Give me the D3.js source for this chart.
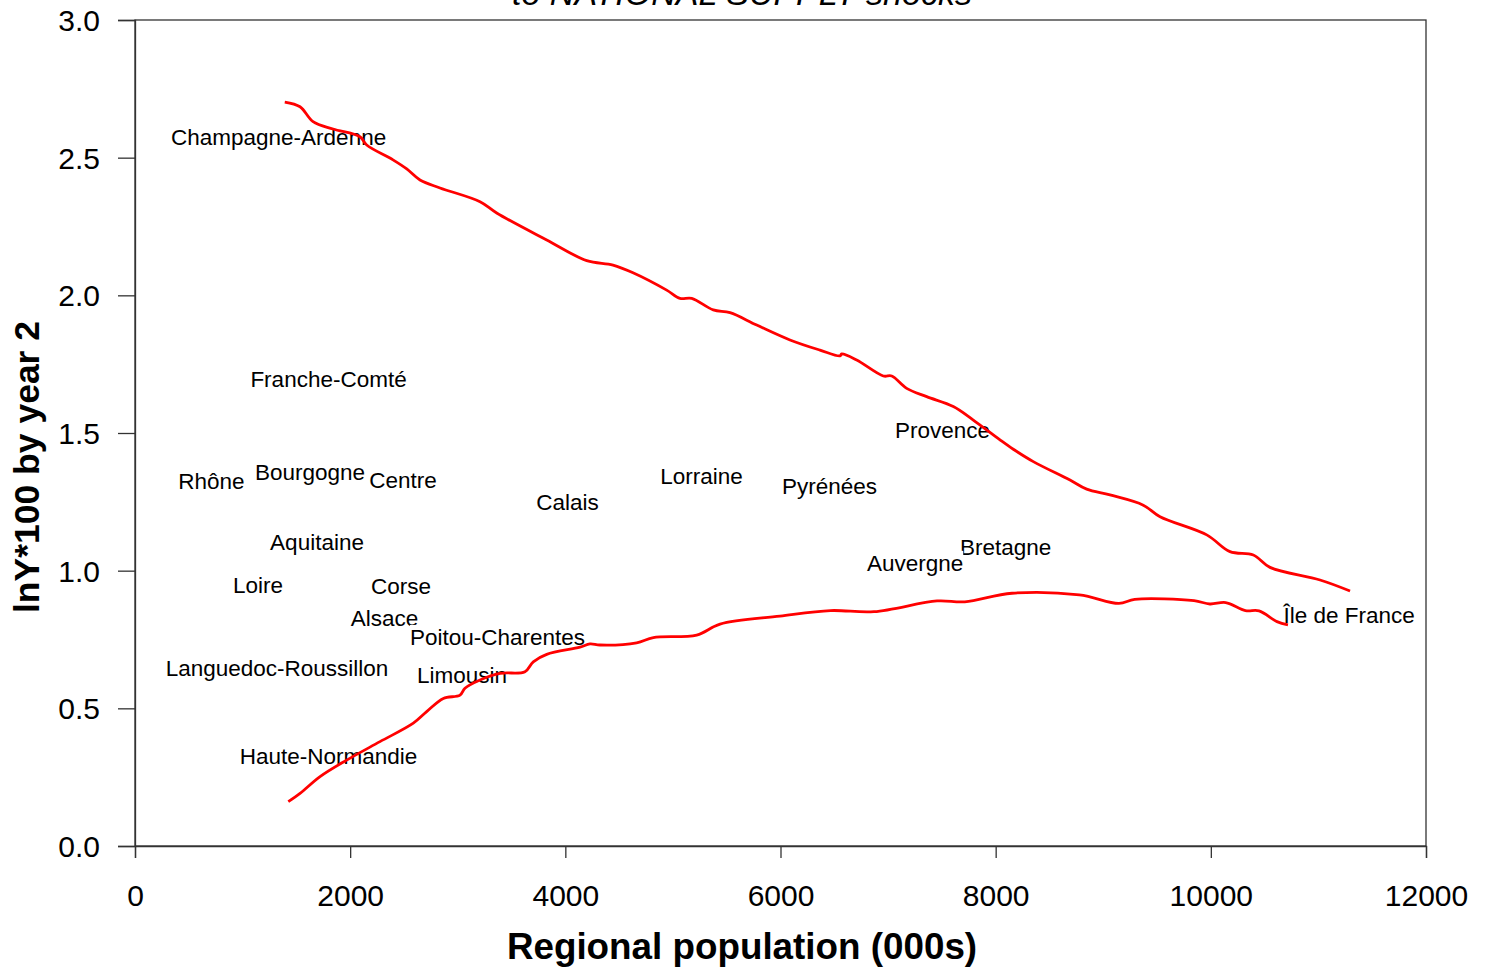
<!DOCTYPE html>
<html>
<head>
<meta charset="utf-8">
<script src="https://cdn.jsdelivr.net/npm/d3@7"></script>
<style>
  html, body { margin: 0; padding: 0; background: #fff; }
  svg { display: block; font-family: "Liberation Sans", Arial, sans-serif; }
</style>
</head>
<body>
<svg id="chart" width="1488" height="970"></svg>
<script>
// ---- data ----
const xTicks = [0, 2000, 4000, 6000, 8000, 10000, 12000];
const yTicks = [0.0, 0.5, 1.0, 1.5, 2.0, 2.5, 3.0];

const regionNames = [
  "Champagne-Ardenne", "Franche-Comté", "Rhône", "Bourgogne", "Centre",
  "Calais", "Lorraine", "Pyrénées", "Provence", "Aquitaine", "Bretagne",
  "Auvergne", "Loire", "Corse", "Alsace", "Poitou-Charentes",
  "Languedoc-Roussillon", "Limousin", "Haute-Normandie", "Île de France"
];
const regionX = [1335, 1799, 711, 1627, 2491, 4020, 5266, 6456, 7506, 1692, 8092,
                 7251, 1143, 2473, 2319, 3370, 1320, 3040, 1799, 11285];
const regionY = [2.575, 1.696, 1.326, 1.358, 1.329, 1.249, 1.344, 1.307, 1.511, 1.104, 1.086,
                 1.028, 0.948, 0.944, 0.828, 0.759, 0.646, 0.621, 0.327, 0.839];

const upperX = [1392, 1534, 1655, 1841, 2091, 2154, 2398, 2526, 2649, 2835, 3207, 3362,
                3827, 4199, 4443, 4629, 4942, 5066, 5175, 5375, 5531, 5779, 6088, 6367,
                6553, 6569, 6708, 6956, 7034, 7173, 7359, 7606, 7792, 8040, 8164, 8350,
                8691, 8846, 9063, 9372, 9528, 9962, 10178, 10395, 10550, 11015, 11294];
const upperY = [2.702, 2.685, 2.631, 2.604, 2.576, 2.546, 2.492, 2.459, 2.419, 2.390, 2.340, 2.299,
                2.201, 2.126, 2.110, 2.082, 2.019, 1.989, 1.989, 1.947, 1.937, 1.892, 1.838, 1.801,
                1.780, 1.787, 1.765, 1.707, 1.707, 1.662, 1.632, 1.596, 1.547, 1.475, 1.441, 1.396,
                1.329, 1.296, 1.275, 1.238, 1.196, 1.130, 1.069, 1.057, 1.012, 0.966, 0.926];

const lowerX = [1425, 1534, 1720, 1968, 2277, 2587, 2711, 2866, 3021, 3067, 3207, 3393,
                3625, 3702, 3827, 4136, 4229, 4322, 4663, 4818, 5221, 5438, 5995, 6464,
                6869, 7455, 7713, 8152, 8778, 9146, 9293, 9844, 9991, 10138, 10322, 10448,
                10615, 10717];
const lowerY = [0.161, 0.191, 0.252, 0.312, 0.379, 0.446, 0.488, 0.536, 0.548, 0.573, 0.603, 0.627,
                0.633, 0.669, 0.696, 0.722, 0.734, 0.730, 0.738, 0.757, 0.766, 0.806, 0.835, 0.855,
                0.851, 0.890, 0.887, 0.918, 0.912, 0.881, 0.896, 0.891, 0.879, 0.884, 0.855, 0.854,
                0.815, 0.803];

const titleText = "to NATIONAL SUPPLY shocks";
const xTitle = "Regional population (000s)";
const yTitle = "lnY*100 by year 2";

// ---- layout ----
const svg = d3.select("#chart");
const plotL = 135, plotR = 1426, plotT = 20, plotB = 846;
const x = d3.scaleLinear().domain([0, 12000]).range([plotL, plotR]);
const y = d3.scaleLinear().domain([0, 3]).range([plotB, plotT]);
const axisColor = "#333";

// frame
svg.append("rect")
  .attr("x", plotL).attr("y", plotT)
  .attr("width", plotR - plotL).attr("height", plotB - plotT)
  .attr("fill", "none").attr("stroke", axisColor).attr("stroke-width", 1.3);

// axes
const yAxis = svg.append("g").attr("transform", `translate(${plotL},0)`)
  .call(d3.axisLeft(y).tickValues(yTicks).tickFormat(d3.format(".1f")).tickSize(17).tickPadding(18));
const xAxis = svg.append("g").attr("transform", `translate(0,${plotB})`)
  .call(d3.axisBottom(x).tickValues(xTicks).tickFormat(d3.format("d")).tickSize(12).tickPadding(27));
[yAxis, xAxis].forEach(g => {
  g.select(".domain").attr("stroke", axisColor).attr("stroke-width", 1.3);
  g.selectAll(".tick line").attr("stroke", axisColor).attr("stroke-width", 1.3);
  g.selectAll(".tick text").attr("fill", "#000")
    .style("font-family", "'Liberation Sans', Arial, sans-serif").style("font-size", "30px");
});
yAxis.selectAll(".tick text").attr("dy", "0.35em");

// title (partially cut off at top, as in the original)
svg.append("text")
  .attr("x", 742).attr("y", 5)
  .attr("text-anchor", "middle")
  .style("font-size", "34px").style("font-style", "italic")
  .text(titleText);

// axis titles
svg.append("text")
  .attr("x", 742).attr("y", 959)
  .attr("text-anchor", "middle")
  .style("font-size", "36.8px").style("font-weight", "bold")
  .text(xTitle);
svg.append("text")
  .attr("transform", "translate(39,467) rotate(-90)")
  .attr("text-anchor", "middle")
  .style("font-size", "35.5px").style("font-weight", "bold")
  .text(yTitle);

// region labels with white backgrounds (drawn in order)
const labels = svg.append("g");
regionNames.forEach((name, i) => {
  const g = labels.append("g");
  const bg = g.append("rect").attr("fill", "#fff");
  const t = g.append("text")
    .attr("x", x(regionX[i])).attr("y", y(regionY[i]))
    .attr("dy", "0.35em")
    .attr("text-anchor", "middle")
    .style("font-size", "22.5px")
    .attr("fill", "#000")
    .text(name);
  const bb = t.node().getBBox();
  bg.attr("x", bb.x).attr("y", bb.y).attr("width", bb.width).attr("height", bb.height);
});

// bound lines
const line = d3.line().x(d => x(d[0])).y(d => y(d[1])).curve(d3.curveCatmullRom.alpha(0.5));
svg.append("path")
  .datum(upperX.map((v, i) => [v, upperY[i]]))
  .attr("d", line).attr("fill", "none").attr("stroke", "#ff0000").attr("stroke-width", 2.8);
svg.append("path")
  .datum(lowerX.map((v, i) => [v, lowerY[i]]))
  .attr("d", line).attr("fill", "none").attr("stroke", "#ff0000").attr("stroke-width", 2.8);
</script>
</body>
</html>
